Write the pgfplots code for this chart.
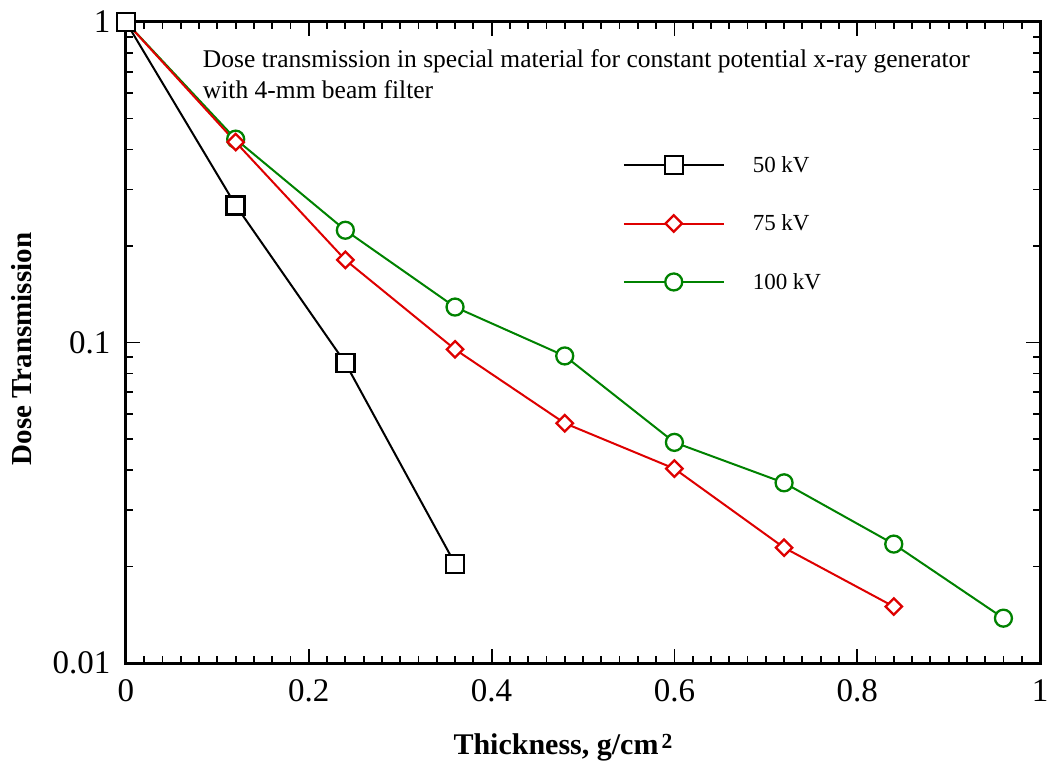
\documentclass[border=0pt]{standalone}
\usepackage{pgfplots}
\pgfplotsset{compat=1.18}
\usepackage{fontspec}
\setmainfont{Liberation Serif}
\definecolor{cred}{RGB}{222,0,0}
\definecolor{cgreen}{RGB}{0,130,0}
\begin{document}
\begin{tikzpicture}
\useasboundingbox (-126pt,-108pt) rectangle (921pt,663pt);
\begin{axis}[
  scale only axis,
  width=914pt, height=641pt,
  xmin=0, xmax=1, ymin=0.01, ymax=1,
  ymode=log,
  clip=false,
  axis line style={line width=3pt},
  every tick/.style={black, line width=1.8pt},
  major tick length=14pt,
  minor tick length=7pt,
  tick align=inside,
  xtick={0,0.2,0.4,0.6,0.8,1},
  xticklabels={0,0.2,0.4,0.6,0.8,1},
  minor x tick num=9,
  ytick={0.01,0.1,1},
  yticklabels={0.01,0.1,1},
  /pgf/number format/assume math mode=true,
  tick label style={font=\fontsize{33}{36}\selectfont},
  xticklabel style={yshift=-13pt},
  yticklabel style={xshift=-12pt},
  xlabel={\textbf{Thickness, g/cm\kern3pt\raisebox{6pt}{\fontsize{21.5}{22}\selectfont\bfseries 2}}},
  xlabel style={font=\fontsize{30}{34}\selectfont, at={(axis description cs:0.478,0)}, anchor=base, yshift=-91pt},
  ylabel={\textbf{Dose Transmission}},
  ylabel style={font=\fontsize{29}{34}\selectfont, at={(axis description cs:-0.114,0.49)}, anchor=center, rotate=0},
  legend image code/.code={\draw[mark repeat=2,mark phase=2] plot coordinates {(0pt,0pt) (50pt,0pt) (100pt,0pt)};},
  reverse legend,
  legend cell align=left,
  legend style={draw=none, fill=none, font=\fontsize{23}{26}\selectfont,
    at={(axis description cs:0.540,0.797)}, anchor=north west,
    row sep=37pt,
    /tikz/every odd column/.append style={column sep=26pt}},
]
\addplot[cgreen, line width=2pt, mark=*, mark size=8.5pt, mark options={fill=white, line width=2.3pt}]
  coordinates {(0,1) (0.12,0.431) (0.24,0.224) (0.36,0.129) (0.48,0.0908) (0.60,0.0488) (0.72,0.0365) (0.84,0.0235) (0.96,0.0138)};
\addlegendentry{100 kV}
\addplot[cred, line width=2pt, mark=square*, mark size=5.8pt, mark options={fill=white, line width=2.3pt, rotate=45}]
  coordinates {(0,1) (0.12,0.422) (0.24,0.181) (0.36,0.0952) (0.48,0.0560) (0.60,0.0404) (0.72,0.0229) (0.84,0.0150)};
\addlegendentry{75 kV}
\addplot[black, line width=2pt, mark=square*, mark size=9pt, mark options={fill=white, line width=2.5pt}]
  coordinates {(0,1) (0.12,0.268) (0.24,0.0863) (0.36,0.0204)};
\addlegendentry{50 kV}
\node[anchor=north west, align=left, font=\fontsize{25.5}{31}\selectfont, inner sep=0pt]
  at (axis description cs:0.084,0.958) {Dose transmission in special material for constant potential x-ray generator\\with 4-mm beam filter};
\end{axis}
\end{tikzpicture}
\end{document}
